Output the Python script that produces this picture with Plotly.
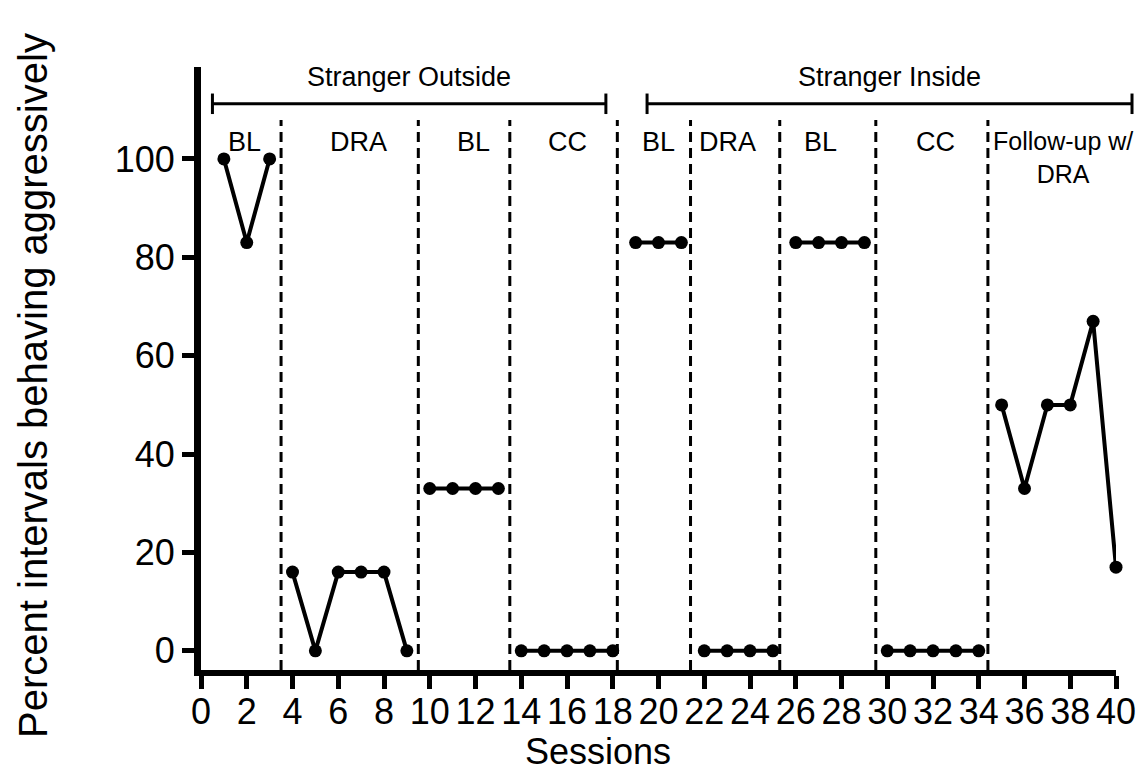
import plotly.graph_objects as go

# ---- data ----
phase_sessions = [
    [1, 2, 3],
    [4, 5, 6, 7, 8, 9],
    [10, 11, 12, 13],
    [14, 15, 16, 17, 18],
    [19, 20, 21],
    [22, 23, 24, 25],
    [26, 27, 28, 29],
    [30, 31, 32, 33, 34],
    [35, 36, 37, 38, 39, 40],
]
phase_values = [
    [100, 83, 100],
    [16, 0, 16, 16, 16, 0],
    [33, 33, 33, 33],
    [0, 0, 0, 0, 0],
    [83, 83, 83],
    [0, 0, 0, 0],
    [83, 83, 83, 83],
    [0, 0, 0, 0, 0],
    [50, 33, 50, 50, 67, 17],
]
phase_labels = ["BL", "DRA", "BL", "CC", "BL", "DRA", "BL", "CC", "Follow-up w/<br>DRA"]
phase_label_x = [1.9, 6.9, 11.9, 16.0, 20.0, 23.0, 27.1, 32.1, 37.7]
phase_change_x = [3.5, 9.5, 13.5, 18.2, 21.4, 25.3, 29.5, 34.4]

condition_labels = ["Stranger Outside", "Stranger Inside"]
condition_start = [0.5, 19.5]
condition_end = [17.7, 40.7]

x_ticks = list(range(0, 41, 2))
y_ticks = [0, 20, 40, 60, 80, 100]
x_range = [0, 40]
y_range = [-3.9, 118.7]

FONT = "Arial, Liberation Sans, sans-serif"


def xpaper(v):
    return (v - x_range[0]) / (x_range[1] - x_range[0])


fig = go.Figure()

for xs, ys in zip(phase_sessions, phase_values):
    fig.add_trace(go.Scatter(
        x=xs, y=ys, mode="lines+markers",
        line=dict(color="black", width=4),
        marker=dict(color="black", size=13),
        showlegend=False, cliponaxis=False,
    ))

shapes = []
for xv in phase_change_x:
    shapes.append(dict(type="line", xref="x", yref="paper", x0=xv, x1=xv, y0=0, y1=0.912,
                       line=dict(color="black", width=3, dash="10px,6px")))

bracket_y = 0.939
cap = 0.017
annotations = []
for lab, s, e in zip(condition_labels, condition_start, condition_end):
    ps, pe = xpaper(s), xpaper(e)
    shapes.append(dict(type="line", xref="paper", yref="paper", x0=ps, x1=pe, y0=bracket_y, y1=bracket_y,
                       line=dict(color="black", width=3)))
    for xv in (ps, pe):
        shapes.append(dict(type="line", xref="paper", yref="paper", x0=xv, x1=xv,
                           y0=bracket_y - cap, y1=bracket_y + cap,
                           line=dict(color="black", width=3)))
    annotations.append(dict(x=(ps + pe) / 2, y=0.983, xref="paper", yref="paper",
                            text=lab, showarrow=False, xanchor="center", yanchor="middle",
                            font=dict(size=27, color="black", family=FONT)))

for lab, xv in zip(phase_labels, phase_label_x):
    size = 25 if "<br>" in lab else 27
    annotations.append(dict(x=xv, y=0.904, xref="x", yref="paper", text=lab, showarrow=False,
                            xanchor="center", yanchor="top",
                            font=dict(size=size, color="black", family=FONT)))

annotations.append(dict(x=0.434, y=-0.135, xref="paper", yref="paper", text="Sessions",
                        showarrow=False, xanchor="center", yanchor="middle",
                        font=dict(size=36, color="black", family=FONT)))
annotations.append(dict(x=-0.183, y=0.472, xref="paper", yref="paper",
                        text="Percent intervals behaving aggressively", textangle=-90,
                        showarrow=False, xanchor="center", yanchor="middle",
                        font=dict(size=40, color="black", family=FONT)))

fig.update_layout(
    width=1140, height=767,
    margin=dict(l=193, r=32, t=59, b=105),
    paper_bgcolor="white", plot_bgcolor="white",
    shapes=shapes, annotations=annotations,
    font=dict(family=FONT, color="black"),
    xaxis=dict(range=x_range, tickvals=x_ticks, showgrid=False, zeroline=False,
               showline=True, linecolor="black", linewidth=6,
               ticks="outside", ticklen=13, tickwidth=5, tickcolor="black",
               ticklabelstandoff=-8,
               tickfont=dict(size=36, family=FONT, color="black")),
    yaxis=dict(range=y_range, tickvals=y_ticks, showgrid=False, zeroline=False,
               showline=True, linecolor="black", linewidth=7,
               ticks="outside", ticklen=12, tickwidth=5, tickcolor="black",
               tickfont=dict(size=36, family=FONT, color="black")),
)

fig.write_html("out.html")
